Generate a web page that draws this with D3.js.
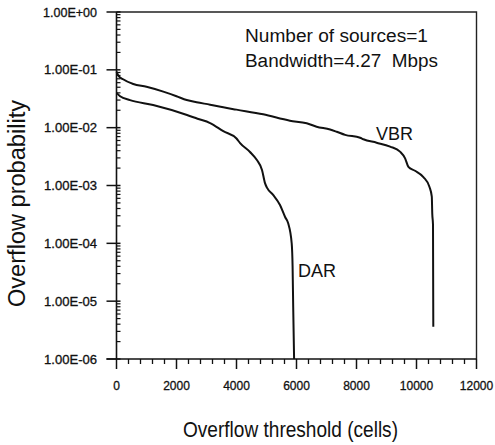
<!DOCTYPE html>
<html>
<head>
<meta charset="utf-8">
<script src="https://cdn.jsdelivr.net/npm/d3@7"></script>
<style>
  body { margin: 0; background: #fff; }
  text { font-family: "Liberation Sans", Arial, Helvetica, sans-serif; fill: #111; }
</style>
</head>
<body>
<div id="chart"></div>
<script>
// values
var vbrCells = [0, 60, 220, 560, 1000, 1560, 2000, 2340, 2670, 3120, 3560, 4000, 4890, 5780, 6340, 6670, 7120, 7340, 7620, 8120, 8230, 8670, 9120, 9450, 9620, 9730, 9950, 10230, 10430, 10510, 10525, 10550, 10560];
var vbrProb  = [0.093, 0.080, 0.0686, 0.057, 0.051, 0.042, 0.035, 0.030, 0.0275, 0.025, 0.0225, 0.0205, 0.017, 0.0132, 0.0119, 0.0104, 0.0093, 0.0085, 0.0075, 0.0067, 0.0063, 0.0055, 0.0047, 0.00385, 0.00295, 0.0021, 0.0018, 0.0014, 0.00095, 0.00064, 0.00033, 0.00021, 3.6e-6];

var darCells = [0, 120, 450, 1220, 2350, 2700, 3120, 3560, 4000, 4120, 4450, 4680, 4850, 4950, 5020, 5220, 5450, 5620, 5720, 5840, 5870, 5890, 5920];
var darProb  = [0.040, 0.035, 0.030, 0.0247, 0.0166, 0.0143, 0.0120, 0.0087, 0.0065, 0.0054, 0.0038, 0.00275, 0.00186, 0.0011, 0.00091, 0.00069, 0.00046, 0.000285, 0.000224, 0.0001, 3.9e-5, 7.9e-6, 1e-6];

var xTicks = [0, 2000, 4000, 6000, 8000, 10000, 12000];
var yTicks = [1, 1e-1, 1e-2, 1e-3, 1e-4, 1e-5, 1e-6];
var yTickLabels = ["1.00E+00", "1.00E-01", "1.00E-02", "1.00E-03", "1.00E-04", "1.00E-05", "1.00E-06"];

(function() {
    var width = 495, height = 445,
        pLeft = 116.5, pRight = 476.5, pTop = 12, pBottom = 359;

    var svg = d3.select("#chart").append("svg")
        .attr("width", width)
        .attr("height", height);

    var x = d3.scaleLinear().domain([0, 12000]).range([pLeft, pRight]);
    var y = d3.scaleLog().domain([1e-6, 1]).range([pBottom, pTop]);

    // frame (top + right sides)
    svg.append("path")
        .attr("d", "M" + pLeft + "," + pTop + "H" + pRight + "V" + pBottom)
        .attr("fill", "none")
        .attr("stroke", "#222")
        .attr("stroke-width", 1.4);

    // x axis
    var xMinor = d3.range(0, 12001, 400).filter(function(d) { return d % 2000 !== 0; });
    svg.append("line")
        .attr("x1", pLeft - 10).attr("x2", pRight)
        .attr("y1", pBottom).attr("y2", pBottom)
        .attr("stroke", "#111").attr("stroke-width", 1.6);
    svg.selectAll(".xminor")
        .data(xMinor)
        .enter().append("line")
            .attr("x1", function(d) { return x(d); })
            .attr("x2", function(d) { return x(d); })
            .attr("y1", pBottom).attr("y2", pBottom + 5)
            .attr("stroke", "#111").attr("stroke-width", 1.3);
    svg.selectAll(".xmajor")
        .data(xTicks)
        .enter().append("line")
            .attr("x1", function(d) { return x(d); })
            .attr("x2", function(d) { return x(d); })
            .attr("y1", pBottom).attr("y2", pBottom + 10)
            .attr("stroke", "#111").attr("stroke-width", 1.5);
    svg.selectAll(".xlabel")
        .data(xTicks)
        .enter().append("text")
            .attr("x", function(d) { return x(d); })
            .attr("y", 390)
            .attr("text-anchor", "middle")
            .style("font-size", "12px")
            .style("stroke", "#111").style("stroke-width", 0.3)
            .text(function(d) { return d; });

    // y axis
    var yMinor = [];
    yTicks.slice(1).forEach(function(t) {
        for (var k = 2; k <= 9; k++) yMinor.push(t * k);
    });
    svg.append("line")
        .attr("x1", pLeft).attr("x2", pLeft)
        .attr("y1", pTop).attr("y2", pBottom)
        .attr("stroke", "#111").attr("stroke-width", 1.6);
    svg.selectAll(".yminor")
        .data(yMinor)
        .enter().append("line")
            .attr("x1", pLeft).attr("x2", pLeft + 4)
            .attr("y1", function(d) { return y(d); })
            .attr("y2", function(d) { return y(d); })
            .attr("stroke", "#111").attr("stroke-width", 1.2);
    svg.selectAll(".ymajor")
        .data(yTicks)
        .enter().append("line")
            .attr("x1", pLeft - 10).attr("x2", pLeft + 4)
            .attr("y1", function(d) { return y(d); })
            .attr("y2", function(d) { return y(d); })
            .attr("stroke", "#111").attr("stroke-width", 1.5);
    svg.selectAll(".ylabel")
        .data(yTicks)
        .enter().append("text")
            .attr("x", 97)
            .attr("y", function(d) { return y(d) + 4.5; })
            .attr("text-anchor", "end")
            .style("font-size", "12px")
            .style("stroke", "#111").style("stroke-width", 0.3)
            .attr("textLength", function(d, i) { return i === 0 ? 54 : 53; })
            .attr("lengthAdjust", "spacingAndGlyphs")
            .text(function(d, i) { return yTickLabels[i]; });

    // curves
    var line = d3.line()
        .curve(d3.curveMonotoneX)
        .x(function(d) { return x(d[0]); })
        .y(function(d) { return y(d[1]); });

    svg.append("path")
        .datum(d3.zip(vbrCells, vbrProb))
        .attr("d", line)
        .attr("fill", "none")
        .attr("stroke", "#111")
        .attr("stroke-width", 2);

    svg.append("path")
        .datum(d3.zip(darCells, darProb))
        .attr("d", line)
        .attr("fill", "none")
        .attr("stroke", "#111")
        .attr("stroke-width", 2);

    // labels
    svg.append("text").attr("x", 376).attr("y", 140)
        .style("font-size", "18px").text("VBR");
    svg.append("text").attr("x", 298).attr("y", 277)
        .style("font-size", "18px").text("DAR");

    svg.append("text").attr("x", 245).attr("y", 41.5)
        .style("font-size", "18px")
        .attr("textLength", 183).attr("lengthAdjust", "spacingAndGlyphs")
        .text("Number of sources=1");
    svg.append("text").attr("x", 245).attr("y", 66.5)
        .style("font-size", "18px").style("white-space", "pre")
        .attr("textLength", 193).attr("lengthAdjust", "spacingAndGlyphs")
        .text("Bandwidth=4.27  Mbps");

    // axis titles
    svg.append("text")
        .attr("x", 290.5).attr("y", 437)
        .attr("text-anchor", "middle")
        .style("font-size", "22px")
        .attr("textLength", 215).attr("lengthAdjust", "spacingAndGlyphs")
        .text("Overflow threshold (cells)");

    svg.append("text")
        .attr("transform", "translate(25,203.5) rotate(-90)")
        .attr("text-anchor", "middle")
        .style("font-size", "23px")
        .attr("textLength", 207).attr("lengthAdjust", "spacingAndGlyphs")
        .text("Overflow probability");
})();
</script>
</body>
</html>
